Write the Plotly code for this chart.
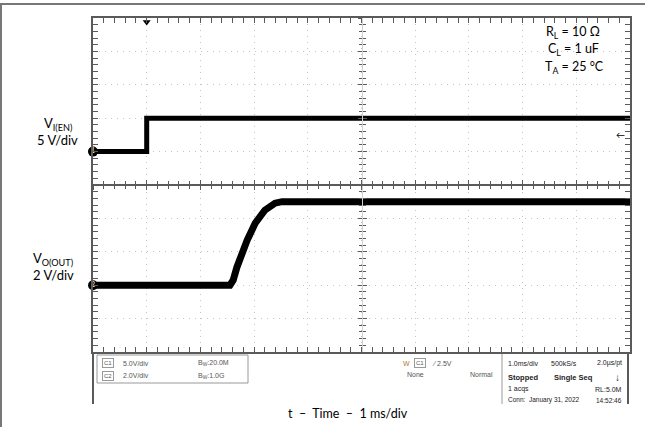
import plotly.graph_objects as go

# ---- data (time in ms, voltage in V) ----
ch1_time = [-1, 0, 0, 9]
ch1_volt = [0, 0, 5, 5]
ch2_time = [-1, 1.55, 1.61, 1.68, 1.87, 2.02, 2.20, 2.30, 2.39, 2.52, 9]
ch2_volt = [0, 0, 0.3, 1.08, 2.69, 3.71, 4.49, 4.75, 4.91, 5.0, 5.0]
trigger_level = 2.5

FONT = "Lato"
FRAME = "#5a5a5a"

fig = go.Figure()

# dummy traces so the centre graticule axes are drawn
fig.add_trace(go.Scatter(x=[None], y=[None], xaxis="x2", yaxis="y", showlegend=False, hoverinfo="skip"))
fig.add_trace(go.Scatter(x=[None], y=[None], xaxis="x3", yaxis="y", showlegend=False, hoverinfo="skip"))
fig.add_trace(go.Scatter(x=[None], y=[None], xaxis="x", yaxis="y4", showlegend=False, hoverinfo="skip"))
fig.add_trace(go.Scatter(x=[None], y=[None], xaxis="x", yaxis="y5", showlegend=False, hoverinfo="skip"))

# waveforms
fig.add_trace(go.Scatter(x=ch1_time, y=ch1_volt, yaxis="y2", mode="lines",
                         line=dict(color="black", width=5), showlegend=False, hoverinfo="skip"))
fig.add_trace(go.Scatter(x=ch2_time, y=ch2_volt, yaxis="y3", mode="lines",
                         line=dict(color="black", width=7),
                         showlegend=False, hoverinfo="skip"))

# channel ground markers
fig.add_trace(go.Scatter(x=[-1], y=[0], yaxis="y2", mode="markers+text", text=["1"],
                         textposition="middle center", textfont=dict(color="white", size=7),
                         marker=dict(color="black", size=10), cliponaxis=False,
                         showlegend=False, hoverinfo="skip"))
fig.add_trace(go.Scatter(x=[-1], y=[0], yaxis="y3", mode="markers+text", text=["2"],
                         textposition="middle center", textfont=dict(color="white", size=7),
                         marker=dict(color="black", size=10), cliponaxis=False,
                         showlegend=False, hoverinfo="skip"))
# trigger position marker
fig.add_trace(go.Scatter(x=[0], y=[4.88], mode="markers",
                         marker=dict(color="black", size=7, symbol="triangle-down"),
                         cliponaxis=False, showlegend=False, hoverinfo="skip"))

grid = dict(showgrid=True, gridcolor="#c4c4c4", griddash="1px,5px", gridwidth=1)
edge = dict(showline=True, linecolor=FRAME, linewidth=2, mirror="allticks",
            ticks="inside", ticklen=5, tickcolor=FRAME, tickwidth=1,
            showticklabels=False, zeroline=False)

centre_common = dict(showline=True, ticklen=4,
                     tickcolor=FRAME, tickwidth=1, showticklabels=False,
                     showgrid=False, zeroline=False, anchor="free", position=0.5)

fig.update_layout(
    width=645, height=427,
    margin=dict(l=93, r=15, t=18, b=75),
    paper_bgcolor="white", plot_bgcolor="white",
    font=dict(family=FONT, color="black"),
    xaxis=dict(range=[-1, 9], dtick=1, tick0=0,
               minor=dict(dtick=0.2, ticks="inside", ticklen=3, tickcolor=FRAME, showgrid=False),
               **grid, **edge),
    yaxis=dict(range=[-5, 5], dtick=1, tick0=0,
               minor=dict(dtick=0.2, ticks="inside", ticklen=3, tickcolor=FRAME, showgrid=False),
               **grid, **edge),
    yaxis2=dict(range=[-30, 20], overlaying="y", visible=False),
    yaxis3=dict(range=[-4, 16], overlaying="y", visible=False),
    xaxis2=dict(range=[-1, 9], overlaying="x", dtick=1, tick0=0, ticks="inside",
                linecolor=FRAME, linewidth=1.5,
                minor=dict(dtick=0.2, ticks="inside", ticklen=3, tickcolor=FRAME),
                **centre_common),
    xaxis3=dict(range=[-1, 9], overlaying="x", dtick=1, tick0=0, ticks="outside",
                linecolor=FRAME, linewidth=1.5,
                minor=dict(dtick=0.2, ticks="outside", ticklen=3, tickcolor=FRAME),
                **centre_common),
    yaxis4=dict(range=[-5, 5], overlaying="y", dtick=1, tick0=0, ticks="inside",
                linecolor="#d0d0d0", linewidth=1,
                minor=dict(dtick=0.2, ticks="inside", ticklen=3, tickcolor=FRAME),
                **centre_common),
    yaxis5=dict(range=[-5, 5], overlaying="y", dtick=1, tick0=0, ticks="outside",
                linecolor="#d0d0d0", linewidth=1,
                minor=dict(dtick=0.2, ticks="outside", ticklen=3, tickcolor=FRAME),
                **centre_common),
)

# ---- frame shapes (paper coordinates) ----
def px2x(px):
    return (px - 93) / 537

def px2y(py):
    return (352 - py) / 334

shapes = [
    dict(type="line", xref="paper", yref="paper", x0=px2x(0), x1=px2x(645), y0=px2y(4), y1=px2y(4),
         line=dict(color="#777", width=2)),
    dict(type="line", xref="paper", yref="paper", x0=px2x(1), x1=px2x(1), y0=px2y(4), y1=px2y(427),
         line=dict(color="#777", width=2)),
    dict(type="line", xref="paper", yref="paper", x0=0, x1=0, y0=0, y1=px2y(404),
         line=dict(color=FRAME, width=2)),
    dict(type="line", xref="paper", yref="paper", x0=px2x(628), x1=px2x(628), y0=0, y1=px2y(404),
         line=dict(color=FRAME, width=2)),
    dict(type="rect", xref="paper", yref="paper", x0=px2x(97), x1=px2x(248), y0=px2y(355), y1=px2y(383),
         line=dict(color="#999", width=1)),
    dict(type="line", xref="paper", yref="paper", x0=px2x(502), x1=px2x(502), y0=px2y(354), y1=px2y(404),
         line=dict(color="#999", width=1)),
]
fig.update_layout(shapes=shapes)

ann = []
def text(px, py, s, size=13, anchor="center", color="black", family=FONT, **kw):
    ann.append(dict(x=px2x(px), y=px2y(py), xref="paper", yref="paper", text=s, showarrow=False,
                    xanchor=anchor, yanchor="middle", font=dict(size=size, color=color, family=family), **kw))

# conditions
text(573, 32, "R<sub>L</sub> = 10 Ω", 12.5)
text(573, 50, "C<sub>L</sub> = 1 uF", 12.5)
text(574, 67, "T<sub>A</sub> = 25 °C", 12.5)
# channel labels
text(58, 124, "V<sub>I(EN)</sub>", 13)
text(57, 140, "5 V/div", 13)
text(53, 259, "V<sub>O(OUT)</sub>", 13)
text(53, 275, "2 V/div", 13)
# x title
text(348, 413, "t  –  Time  –  1 ms/div", 12.5)

# trigger level arrow
ann.append(dict(x=9, y=trigger_level, xref="x", yref="y2", text="←", showarrow=False,
                xanchor="right", yanchor="middle", xshift=-3, font=dict(size=9, color="black")))

# readout panel
RO = "Liberation Sans"
g = "#555"
text(108, 363, "C1", 6, color=g, family=RO, bordercolor="#999", borderwidth=1, borderpad=1)
text(121, 363, "5.0V/div", 7, "left", g, RO)
text(196, 363, "B<sub>W</sub>:20.0M", 7, "left", g, RO)
text(108, 376, "C2", 6, color=g, family=RO, bordercolor="#999", borderwidth=1, borderpad=1)
text(121, 376, "2.0V/div", 7, "left", g, RO)
text(196, 376, "B<sub>W</sub>:1.0G", 7, "left", g, RO)

text(406, 363, "W", 7, color="#b07a30", family=RO)
text(420, 363, "C1", 6, color=g, family=RO, bordercolor="#999", borderwidth=1, borderpad=1)
text(430, 363, "⁄ 2.5V", 7, "left", g, RO)
text(405, 374, "None", 7, "left", g, RO)
text(468, 374, "Normal", 7, "left", g, RO)

d = "#222"
text(506, 363, "1.0ms/div", 7, "left", d, RO)
text(549, 363, "500kS/s", 7, "left", d, RO)
text(624, 363, "2.0µs/pt", 7, "right", d, RO)
text(506, 377, "<b>Stopped</b>", 7.5, "left", d, RO)
text(552, 377, "<b>Single Seq</b>", 7.5, "left", d, RO)
text(617, 377, "<b>↓</b>", 10, color=d, family=RO)
text(506, 389, "1 acqs", 7, "left", d, RO)
text(624, 389, "RL:5.0M", 7, "right", d, RO)
text(506, 400, "Conn:  January 31, 2022", 6.5, "left", d, RO)
text(624, 400, "14:52:46", 6.5, "right", d, RO)

fig.update_layout(annotations=ann)

fig.write_html("out.html", config={"displayModeBar": False},
               post_script="document.body.style.margin='0';")
